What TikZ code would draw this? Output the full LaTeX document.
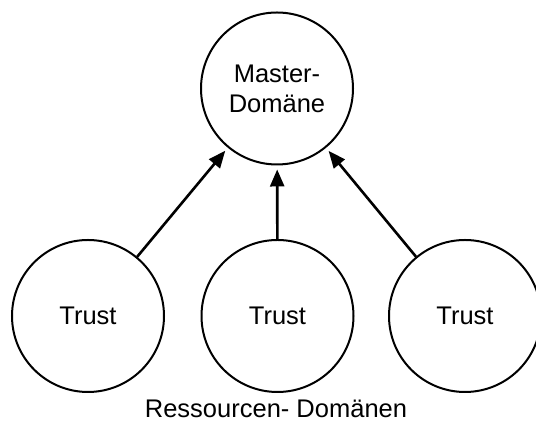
\documentclass[tikz,border=0pt]{standalone}
\usepackage{fontspec}
\setmainfont{Liberation Sans}
\usetikzlibrary{arrows.meta}
\begin{document}
\begin{tikzpicture}[x=1pt,y=1pt,
  dom/.style={circle,draw=black,line width=2pt,minimum size=152pt,inner sep=0pt,
    font=\fontsize{25.5}{30}\selectfont,align=center},
  trustarrow/.style={line width=2.6pt,-{Triangle[length=17pt,width=14pt]},shorten >=4pt}]
\useasboundingbox (0,0) rectangle (536,435);
\fill[white] (0,0) rectangle (536,435);
\node[dom] (m) at (277,346.5) {Master-\\Domäne};
\node[dom] (l) at (88,119) {Trust};
\node[dom] (c) at (277.5,119) {Trust};
\node[dom] (r) at (465,119) {Trust};
\draw[trustarrow] (l) -- (m);
\draw[trustarrow] (c) -- (m);
\draw[trustarrow] (r) -- (m);
\node[font=\fontsize{25.5}{30}\selectfont,anchor=base] (lbl) at (276,17) {Ressourcen- Domänen};
\end{tikzpicture}
\end{document}
